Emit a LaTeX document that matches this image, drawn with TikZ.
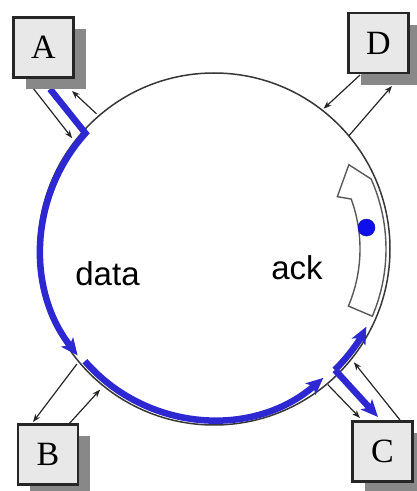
\documentclass[tikz,border=0pt]{standalone}
\usepackage{fontspec}
\setmainfont{Liberation Serif}
\newfontfamily\labelfont{Liberation Sans}
\usetikzlibrary{arrows.meta,shadows}
\begin{document}
\begin{tikzpicture}[x=1pt,y=1pt,>={Stealth[length=8pt,width=6pt]}]
\definecolor{ringcolor}{RGB}{55,55,55}
\definecolor{datacolor}{RGB}{45,40,210}
\definecolor{tokencolor}{RGB}{15,15,235}
\definecolor{boxfill}{RGB}{232,232,232}
\definecolor{shadowcolor}{RGB}{136,136,136}
\tikzstyle{station}=[draw=black!85,line width=2.4pt,fill=boxfill,minimum size=60pt,inner sep=0pt,font=\fontsize{34}{34}\selectfont,drop shadow={shadow xshift=12pt,shadow yshift=-12pt,fill=shadowcolor,opacity=1}]
\tikzstyle{ring}=[draw=ringcolor,line width=1.5pt]
\tikzstyle{link}=[->,draw=black!85,line width=1.2pt]
\tikzstyle{datapath}=[draw=datacolor,line width=6.5pt,-{Stealth[length=17pt,width=15pt,inset=4pt]}]
\tikzstyle{ackshape}=[draw=black!65,fill=white,line width=1.4pt]
\tikzstyle{token}=[circle,draw=tokencolor!70!black,fill=tokencolor,minimum size=17pt,inner sep=0pt]
\tikzstyle{textlabel}=[anchor=base,inner sep=0pt,font=\labelfont\fontsize{33}{36}\selectfont]
\useasboundingbox (0,0) rectangle (416,491);
\coordinate (ctr) at (214,242);
\draw[ring] (ctr) circle[radius=176];
\begin{scope}[shift={(ctr)}]
\coordinate (ringAin) at (142:180);
\coordinate (ringAout) at (131:179);
\coordinate (ringBout) at (220:179);
\coordinate (ringBin) at (231:181);
\coordinate (ringCout) at (310:177);
\coordinate (ringCin) at (321:180);
\coordinate (ringDin) at (52:178);
\coordinate (ringDout) at (40:176);
\coordinate (dataA) at (138:173);
\coordinate (dataB) at (221:171);
\coordinate (dataC) at (315:171);
\draw[ackshape] (-23:146) arc[start angle=-23,end angle=20,radius=146] -- (23:134) -- (32:159) -- (24:172) arc[start angle=24,end angle=-23,radius=172] -- cycle;
\node[token] (tok) at (8:154) {};
\end{scope}
\coordinate (stAin) at (33,403);
\coordinate (stAout) at (72,400);
\coordinate (stAdata) at (50,402);
\coordinate (stBout) at (33,69);
\coordinate (stBin) at (68,66);
\coordinate (stCout) at (360,73);
\coordinate (stCin) at (400,71);
\coordinate (stCdata) at (378,74);
\coordinate (stDin) at (360,416);
\coordinate (stDout) at (392,405);
\draw[link] (stAin) -- (ringAin);
\draw[link] (ringAout) -- (stAout);
\draw[link] (ringBout) -- (stBout);
\draw[link] (stBin) -- (ringBin);
\draw[link] (ringCout) -- (stCout);
\draw[link] (stCin) -- (ringCin);
\draw[link] (stDin) -- (ringDin);
\draw[link] (ringDout) -- (stDout);
\draw[datapath] (stAdata) -- (dataA) arc[start angle=138,end angle=218,radius=173];
\draw[datapath] (dataB) arc[start angle=221,end angle=311,radius=169];
\draw[datapath] (dataC) arc[start angle=315,end angle=333,radius=171];
\draw[datapath] (dataC) -- (stCdata);
\node[station] (A) at (43.5,443.5) {A};
\node[station] (D) at (378.5,448) {D};
\node[station] (B) at (48,36.5) {B};
\node[station] (C) at (382.5,39.5) {C};
\node[textlabel] (datatxt) at (107.5,205) {data};
\node[textlabel] (acktxt) at (297,211) {ack};
\end{tikzpicture}
\end{document}
